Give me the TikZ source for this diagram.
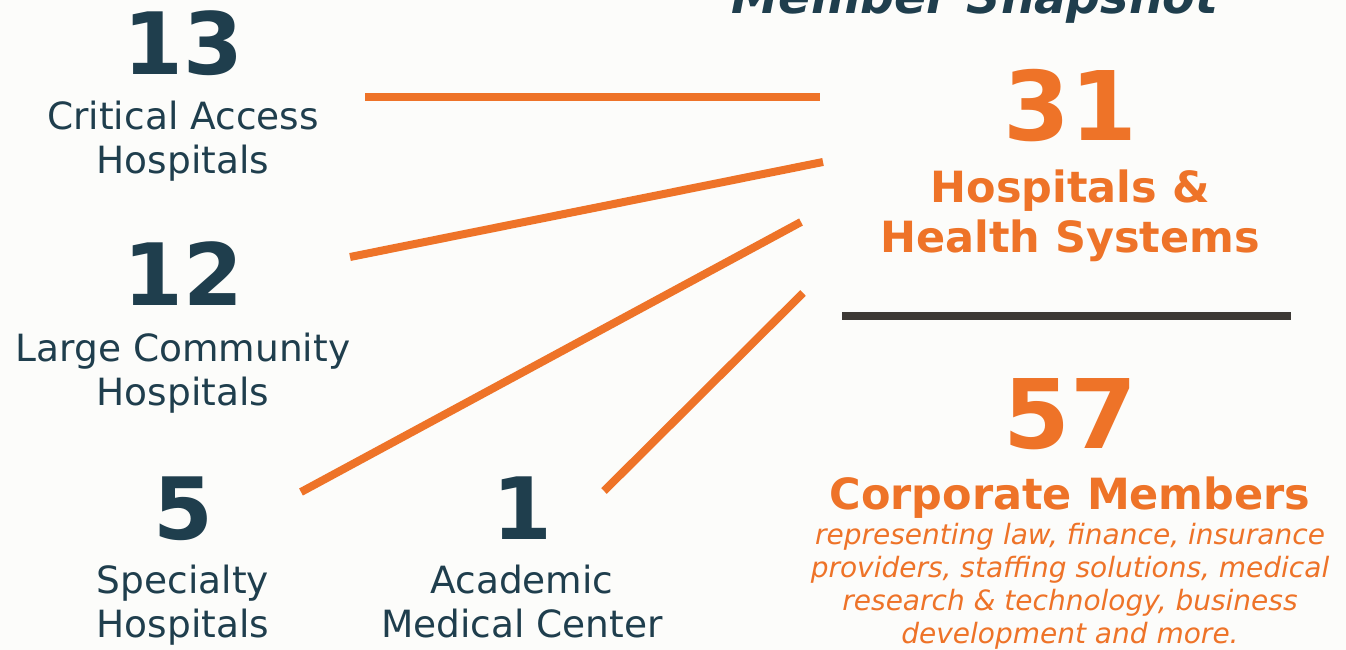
\documentclass[tikz,border=0pt]{standalone}
\usepackage{fontspec}
\setmainfont{DejaVu Sans}
\definecolor{teal}{HTML}{1F3E4D}
\definecolor{orng}{HTML}{EE7328}
\definecolor{divgray}{HTML}{3D3935}
\definecolor{bg}{HTML}{FCFCFA}
\begin{document}
\begin{tikzpicture}[x=1pt,y=-1pt,
  every node/.style={inner sep=0pt,outer sep=0pt,anchor=base,align=center},
  bignum/.style={text=teal,font=\bfseries\fontsize{86}{86}\selectfont},
  rnum/.style={text=orng,font=\bfseries\fontsize{96}{96}\selectfont},
  lbl/.style={text=teal,font=\fontsize{37.5}{44}\selectfont},
  rlbl/.style={text=orng,font=\bfseries\fontsize{43}{50}\selectfont},
  itl/.style={text=orng,font=\itshape\fontsize{28}{33}\selectfont},
  ttl/.style={text=teal,font=\bfseries\itshape\fontsize{47.5}{50}\selectfont},
  ray/.style={draw=orng,line width=8pt,line cap=butt},
  divider/.style={draw=divgray,line width=8pt}]
\fill[bg] (0,0) rectangle (1346,650);
\useasboundingbox (0,0) rectangle (1346,650);
% title
\node[ttl] (title) at (975,14) {Member Snapshot};
% left column
\node[bignum] (n13) at (183,75) {13};
\node[lbl] (l13) at (183,173) {Critical Access\\Hospitals};
\node[bignum] (n12) at (183,305) {12};
\node[lbl] (l12) at (183,405) {Large Community\\Hospitals};
\node[bignum] (n5) at (183,539) {5};
\node[lbl] (l5) at (183,637) {Specialty\\Hospitals};
\node[bignum] (n1) at (522,539) {1};
\node[lbl] (l1) at (522,637) {Academic\\Medical Center};
% right column
\node[rnum] (n31) at (1070,140) {31};
\node[rlbl] (l31) at (1070,252) {Hospitals \&\\Health Systems};
\node[rnum] (n57) at (1070,448) {57};
\node[rlbl] (l57) at (1070,509) {Corporate Members};
\node[itl] (d57) at (1070,643) {representing law, finance, insurance\\providers, staffing solutions, medical\\research \& technology, business\\development and more.};
% rays
\coordinate (a1) at (365,97.5);  \coordinate (b1) at (820,97.5);
\coordinate (a2) at (350,257);   \coordinate (b2) at (823,162);
\coordinate (a3) at (301,492);   \coordinate (b3) at (801,222);
\coordinate (a4) at (604,491);   \coordinate (b4) at (803,293);
\draw[ray] (a1) -- (b1);
\draw[ray] (a2) -- (b2);
\draw[ray] (a3) -- (b3);
\draw[ray] (a4) -- (b4);
\coordinate (d1) at (842,316); \coordinate (d2) at (1291,316);
\draw[divider] (d1) -- (d2);
\end{tikzpicture}
\end{document}
